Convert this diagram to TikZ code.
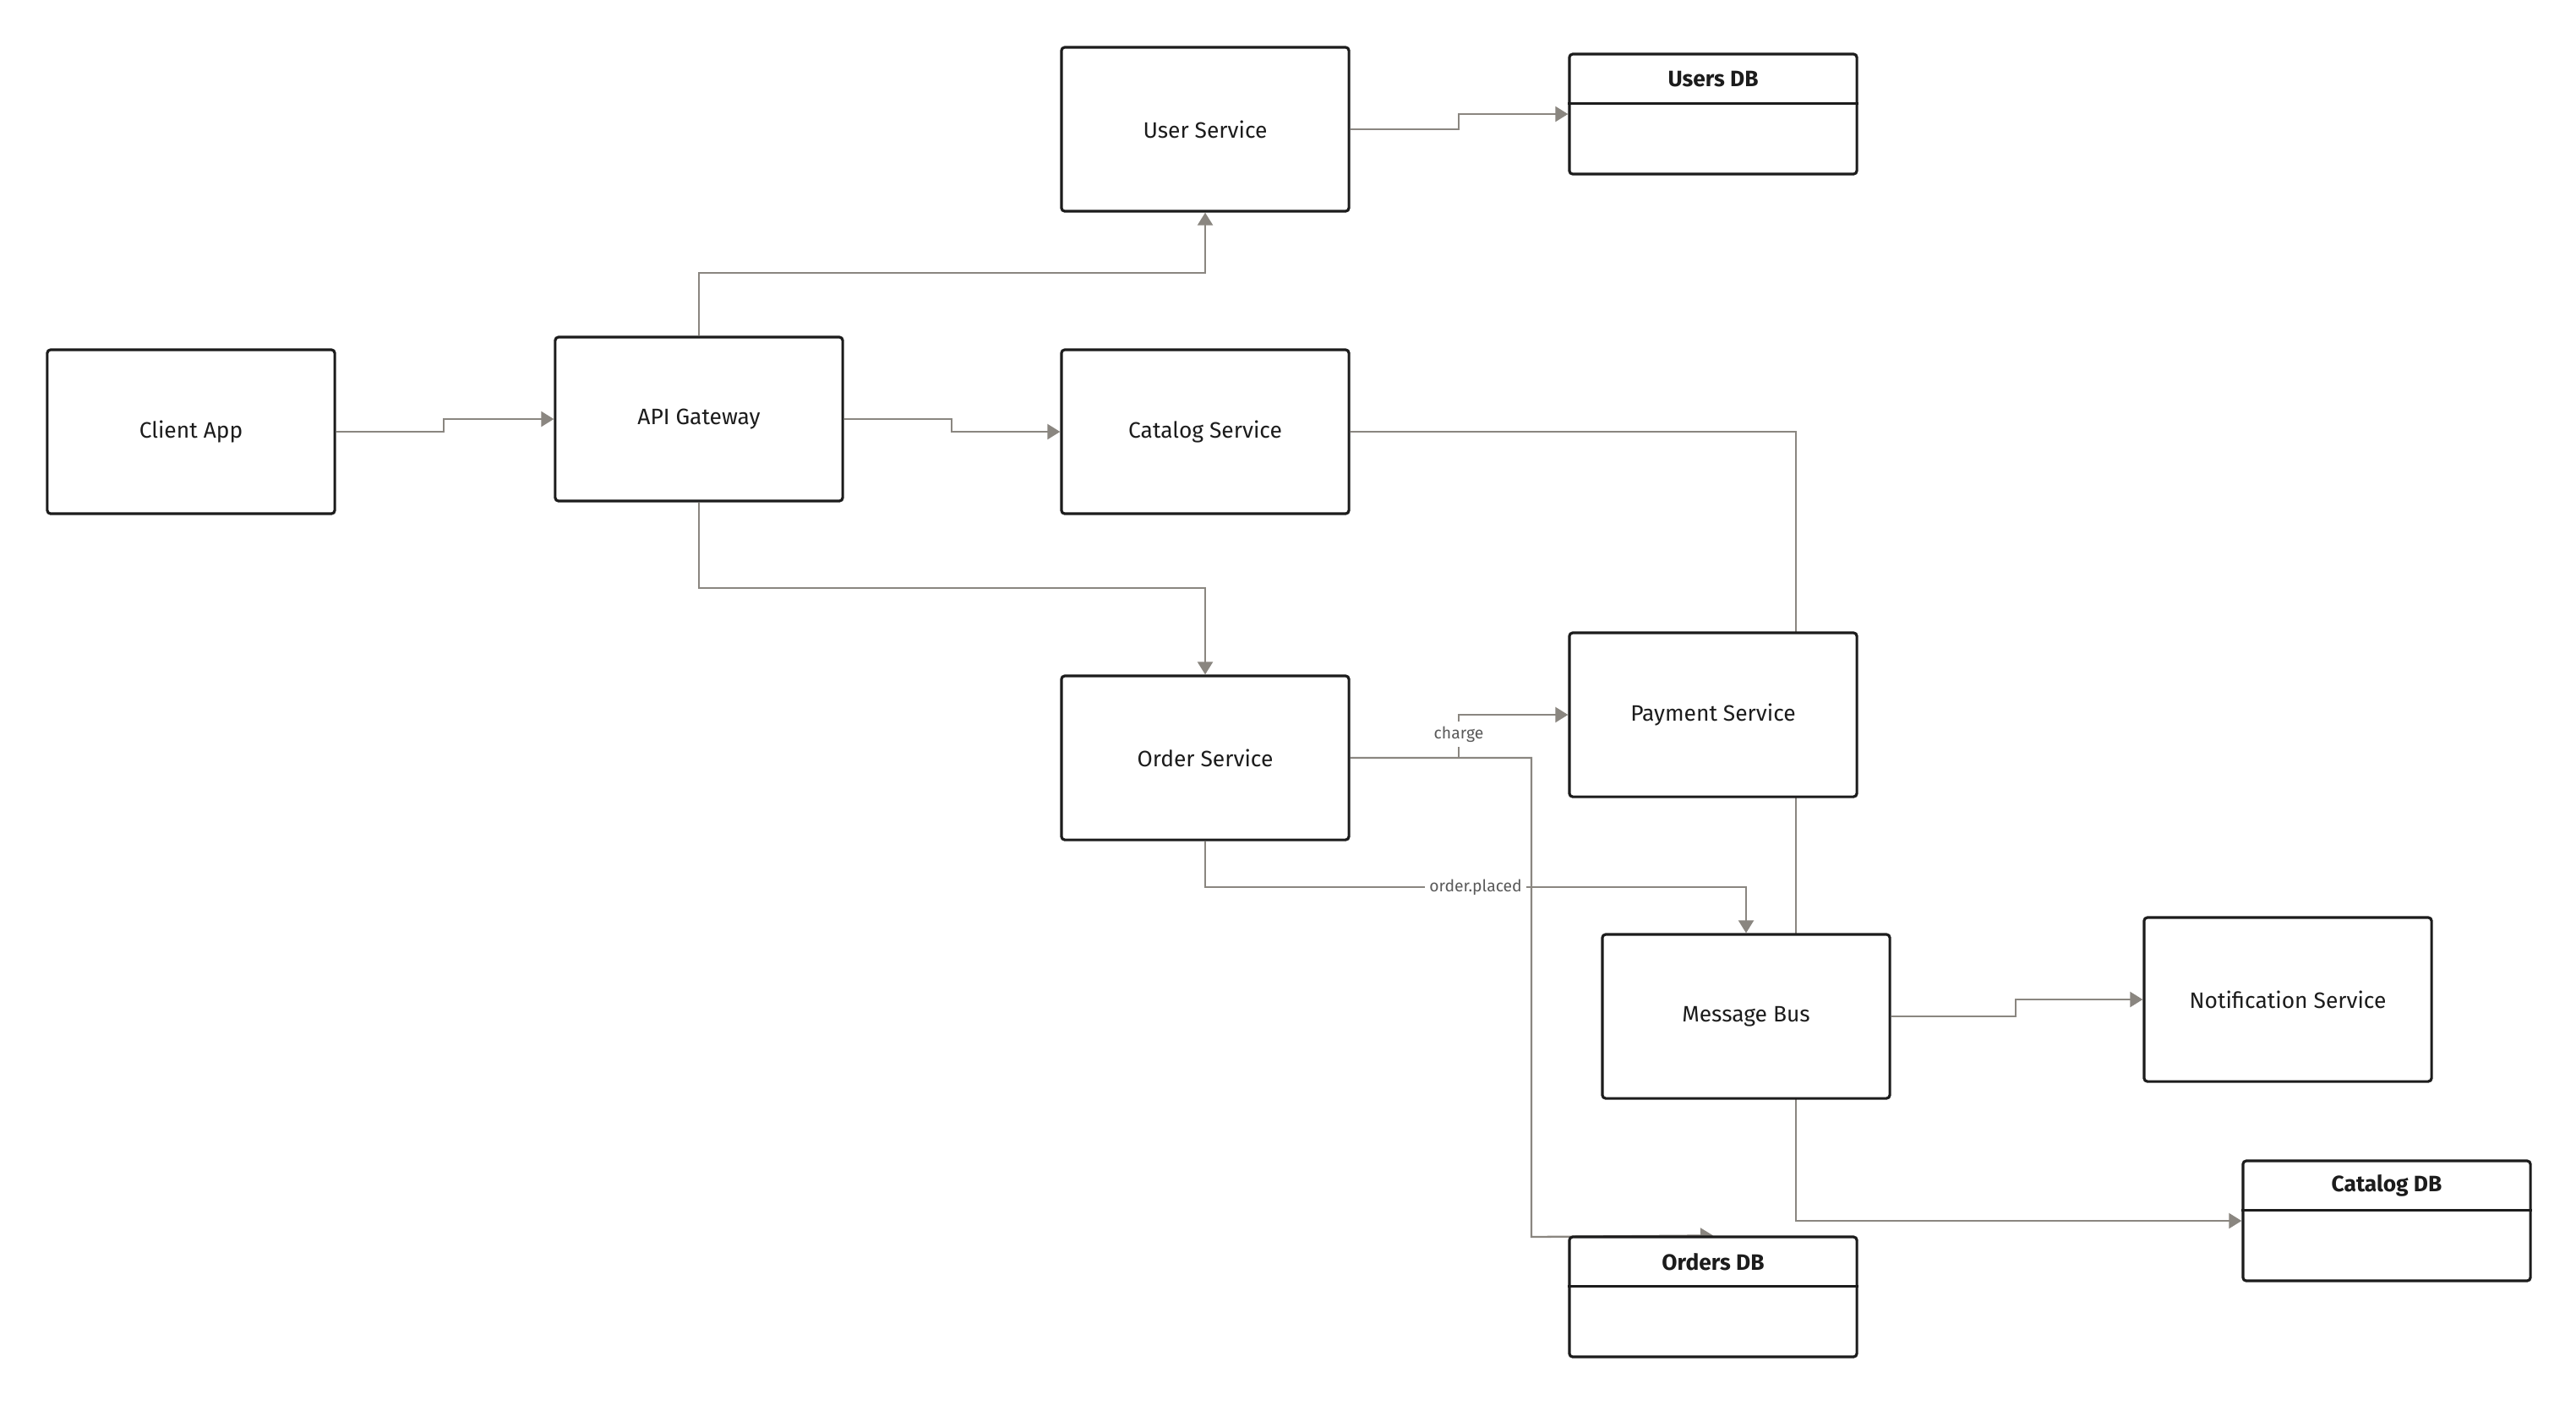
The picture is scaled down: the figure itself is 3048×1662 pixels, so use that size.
\documentclass[tikz,border=0pt]{standalone}
\usepackage{fontspec}
\setmainfont{Fira Sans}
\usetikzlibrary{arrows.meta,backgrounds}
\definecolor{edgec}{HTML}{8A8680}
\definecolor{ink}{HTML}{1C1C1C}
\definecolor{lblc}{HTML}{5A5A5A}
\begin{document}
\begin{tikzpicture}[x=0.01cm,y=-0.01cm,
 svc/.style={draw=ink, line width=0.9pt, fill=white, rounded corners=0.04cm, minimum width=3.4cm, minimum height=1.94cm, inner sep=0pt, font=\fontsize{7.5}{9}\selectfont, text=ink},
 dbbox/.style={draw=ink, line width=0.9pt, fill=white, rounded corners=0.04cm, minimum width=3.4cm, minimum height=1.42cm, inner sep=0pt},
 dbtitle/.style={font=\fontsize{7.5}{9}\selectfont\bfseries, text=ink, inner sep=0pt},
 conn/.style={draw=edgec, line width=0.65pt, -{Triangle[length=0.15cm,width=0.18cm]}},
 elabel/.style={fill=white, text=lblc, font=\fontsize{5.5}{6.5}\selectfont, inner sep=1.5pt}
]
\useasboundingbox (0,0) rectangle (3048,1662);

% services
\node[svc] (client) at (226,511) {Client App};
\node[svc] (api) at (827,496) {API Gateway};
\node[svc] (user) at (1426,153) {User Service};
\node[svc] (cat) at (1426,511) {Catalog Service};
\node[svc] (order) at (1426,897) {Order Service};
\node[svc] (pay) at (2027,846) {Payment Service};
\node[svc] (bus) at (2066,1203) {Message Bus};
\node[svc] (notif) at (2707,1183) {Notification Service};

% databases
\node[dbbox] (udb) at (2027,135) {};
\node[dbbox] (odb) at (2027,1535) {};
\node[dbbox] (cdb) at (2824,1445) {};
\foreach \d/\t in {udb/Users DB, odb/Orders DB, cdb/Catalog DB}{
  \draw[ink, line width=0.9pt] ([yshift=-0.6cm]\d.north west) -- ([yshift=-0.6cm]\d.north east);
  \node[dbtitle] (\d-title) at ([yshift=-0.31cm]\d.north) {\t};
}

% connectors
\begin{scope}[on background layer]
\draw[conn] (client.east) -- (525,511) -- (525,496) -- (api.west);
\draw[conn] (api.east) -- (1126,496) -- (1126,511) -- (cat.west);
\draw[conn] (api.north) -- (827,323) -- (1426,323) -- (user.south);
\draw[conn] (api.south) -- (827,696) -- (1426,696) -- (order.north);
\draw[conn] (user.east) -- (1726,153) -- (1726,135) -- (udb.west);
\draw[conn] (cat.east) -- (2125,511) -- (2125,1445) -- (cdb.west);
\draw[conn] (order.east) -- (1726,897) -- (1726,846) -- (pay.west);
\draw[conn] (order.east) -- (1812,897) -- (1812,1464) -- (odb.north);
\draw[conn] (order.south) -- (1426,1050) -- (2066,1050) -- (bus.north);
\draw[conn] (bus.east) -- (2385,1203) -- (2385,1183) -- (notif.west);
\end{scope}

% edge labels
\node[elabel] (lcharge) at (1726,869) {charge};
\node[elabel] (lplaced) at (1746,1050) {order.placed};
\end{tikzpicture}
\end{document}
